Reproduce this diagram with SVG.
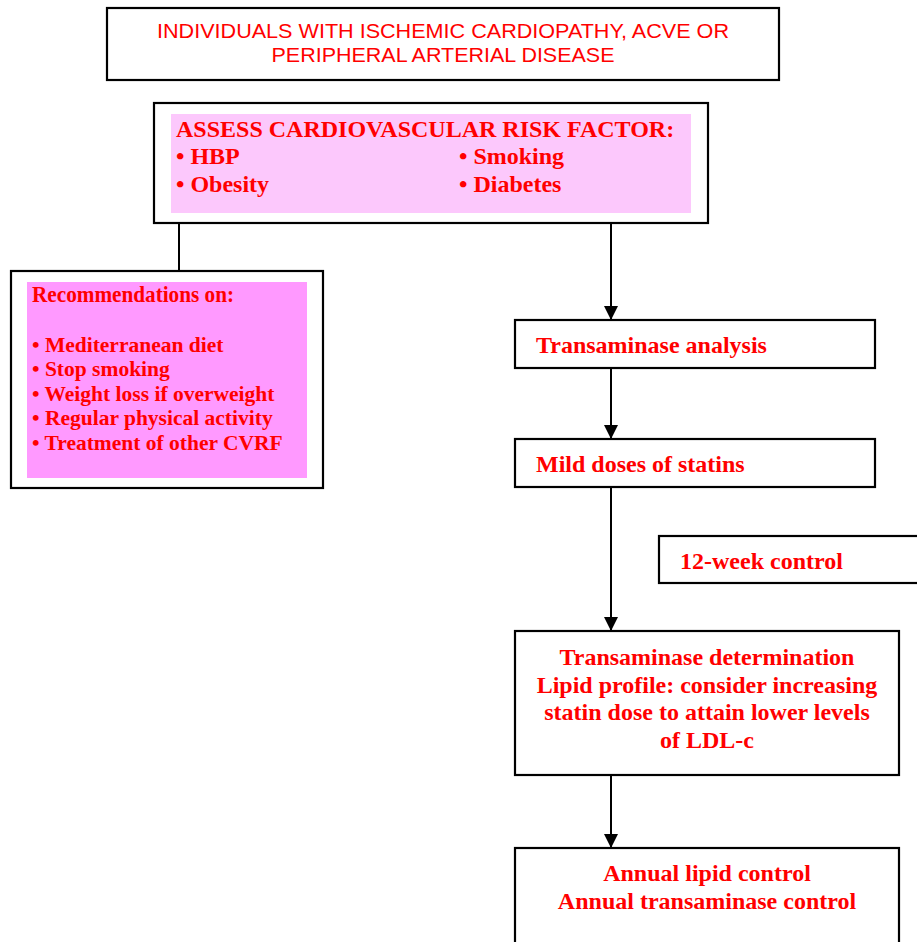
<svg xmlns="http://www.w3.org/2000/svg" width="917" height="942" viewBox="0 0 917 942">
<defs>
<style>
.box{fill:#fff;stroke:#000;stroke-width:2.2}
.t{font-family:"Liberation Serif","Times New Roman",serif;font-weight:bold;fill:#f00;font-size:24px}
.s{font-size:21.5px}
.a{font-family:"Liberation Sans",Arial,sans-serif;fill:#f00;font-size:21px}
.c{stroke:#000;stroke-width:2;fill:none}
</style>
<marker id="ah" markerWidth="14" markerHeight="14" viewBox="0 0 14 14" refX="14" refY="7" orient="auto" markerUnits="userSpaceOnUse">
<path d="M0,0 L14,7 L0,14 Z" fill="#000"/>
</marker>
</defs>
<rect width="917" height="942" fill="#fff"/>
<g id="connectors">
<line class="c" x1="179" y1="223" x2="179" y2="271"/>
<line class="c" x1="611" y1="223" x2="611" y2="320" marker-end="url(#ah)"/>
<line class="c" x1="611" y1="368" x2="611" y2="439" marker-end="url(#ah)"/>
<line class="c" x1="611" y1="487" x2="611" y2="631" marker-end="url(#ah)"/>
<line class="c" x1="611" y1="775" x2="611" y2="848" marker-end="url(#ah)"/>
</g>
<g id="n1">
<rect class="box" x="107" y="8" width="672" height="72"/>
<text class="a" x="443" y="38" text-anchor="middle" textLength="572" lengthAdjust="spacingAndGlyphs">INDIVIDUALS WITH ISCHEMIC CARDIOPATHY, ACVE OR</text>
<text class="a" x="443" y="62" text-anchor="middle" textLength="343" lengthAdjust="spacingAndGlyphs">PERIPHERAL ARTERIAL DISEASE</text>
</g>
<g id="n2">
<rect class="box" x="154" y="103" width="554" height="120"/>
<rect x="171" y="114" width="520" height="99" fill="#fcc8fc"/>
<text class="t" x="176" y="137">ASSESS CARDIOVASCULAR RISK FACTOR:</text>
<text class="t" x="176" y="164">• HBP</text>
<text class="t" x="459" y="164">• Smoking</text>
<text class="t" x="176" y="192">• Obesity</text>
<text class="t" x="459" y="192">• Diabetes</text>
</g>
<g id="n3">
<rect class="box" x="11" y="271" width="312" height="217"/>
<rect x="27" y="282" width="280" height="196" fill="#ff99ff"/>
<text class="t" x="32" y="302" font-size="20" textLength="202" lengthAdjust="spacingAndGlyphs">Recommendations on:</text>
<text class="t s" x="32" y="352">• Mediterranean diet</text>
<text class="t s" x="32" y="376">• Stop smoking</text>
<text class="t s" x="32" y="401">• Weight loss if overweight</text>
<text class="t s" x="32" y="425">• Regular physical activity</text>
<text class="t s" x="32" y="450">• Treatment of other  CVRF</text>
</g>
<g id="n4">
<rect class="box" x="515" y="320" width="360" height="48"/>
<text class="t" x="536" y="353">Transaminase analysis</text>
</g>
<g id="n5">
<rect class="box" x="515" y="439" width="360" height="48"/>
<text class="t" x="536" y="472">Mild doses of statins</text>
</g>
<g id="n6">
<rect class="box" x="659" y="536" width="270" height="47"/>
<text class="t" x="680" y="569">12-week control</text>
</g>
<g id="n7">
<rect class="box" x="515" y="631" width="384" height="144"/>
<text class="t" x="707" y="665" text-anchor="middle">Transaminase determination</text>
<text class="t" x="707" y="693" text-anchor="middle">Lipid profile: consider increasing</text>
<text class="t" x="707" y="720" text-anchor="middle">statin dose to attain lower levels</text>
<text class="t" x="707" y="748" text-anchor="middle">of LDL-c</text>
</g>
<g id="n8">
<rect class="box" x="515" y="848" width="384" height="110"/>
<text class="t" x="707" y="881" text-anchor="middle">Annual lipid control</text>
<text class="t" x="707" y="909" text-anchor="middle">Annual transaminase control</text>
</g>
</svg>
